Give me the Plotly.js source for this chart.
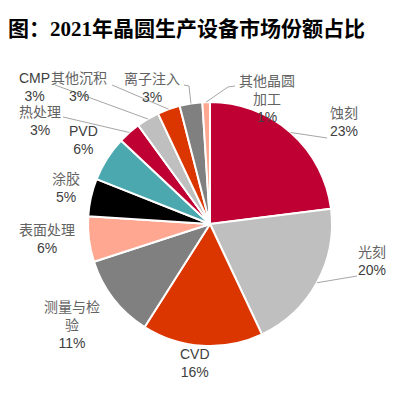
<!DOCTYPE html>
<html>
<head>
<meta charset="utf-8">
<script src="https://cdn.plot.ly/plotly-3.0.1.min.js"></script>
<style>html,body{margin:0;padding:0;background:#fff;}#chart{width:393px;height:403px;}</style>
</head>
<body>
<div id="chart"></div>
<script>
// ---- data ----
const categories = ["蚀刻", "光刻", "CVD", "测量与检验", "表面处理", "涂胶", "PVD", "热处理", "CMP", "其他沉积", "离子注入", "其他晶圆加工"];
const shares = [23, 20, 16, 11, 6, 5, 6, 3, 3, 3, 3, 1];
const displayNames = ["蚀刻", "光刻", "CVD", "测量与检<br>验", "表面处理", "涂胶", "PVD", "热处理", "CMP", "其他沉积", "离子注入", "其他晶圆<br>加工"];

// ---- style ----
const sliceColors = ["#BF0033", "#BFBFBF", "#DC3600", "#808080", "#FFA791", "#000000", "#4BA8AE",
                     "#BF0033", "#BFBFBF", "#DC3600", "#808080", "#FFA791"];
const W = 393, H = 403;
const cx = 210, cy = 224, R = 122;
// label block centres (px) and leader-line label ends (null = no line)
const labelPos = [
  [344, 122], [372, 261], [195, 363], [72, 325], [47, 239], [66, 188],
  [83, 140], [40, 121], [34, 87], [79, 87], [152, 88], [267, 99]
];
const leaderFrom = [
  [[327, 138]], [[357, 276]], null, null, null, null, null,
  [[63, 117]], [[55, 85]], [[112, 85]], [[184, 85], [189, 86]], [[235, 86], [228, 87]]
];

const px = x => x / W;
const py = y => 1 - y / H;

const total = shares.reduce((a, b) => a + b, 0);
let cum = 0;
const shapes = [];
const annotations = [];
shares.forEach((v, i) => {
  const mid = (cum + v / 2) / total * 2 * Math.PI;
  cum += v;
  const ax = cx + R * Math.sin(mid);
  const ay = cy - R * Math.cos(mid);
  if (leaderFrom[i]) {
    const pts = leaderFrom[i].concat([[ax, ay]]);
    const path = pts.map((p, k) => (k ? "L" : "M") + px(p[0]).toFixed(5) + "," + py(p[1]).toFixed(5)).join(" ");
    shapes.push({type: "path", xref: "paper", yref: "paper", path: path,
                 line: {color: "#A6A6A6", width: 1}});
  }
  const isLatin = /^[A-Za-z]+$/.test(categories[i]);
  annotations.push({
    xref: "paper", yref: "paper", x: px(labelPos[i][0]), y: py(labelPos[i][1]),
    xanchor: "center", yanchor: "middle", showarrow: false, align: "center",
    text: '<span style="color:' + (isLatin ? '#404040' : '#636363') + '">' + displayNames[i] + '</span><br>' +
          '<span style="color:#404040">' + v + '%</span>',
    font: {family: "Liberation Sans, Arial, Noto Sans CJK SC", size: 14, color: "#404040"}
  });
});

const trace = {
  type: "pie",
  labels: categories,
  values: shares,
  sort: false,
  direction: "clockwise",
  rotation: 0,
  textinfo: "none",
  hoverinfo: "skip",
  marker: {colors: sliceColors, line: {color: "#FFFFFF", width: 2}},
  domain: {x: [px(cx - R), px(cx + R)], y: [py(cy + R), py(cy - R)]}
};

const layout = {
  width: W, height: H,
  margin: {l: 0, r: 0, t: 0, b: 0},
  paper_bgcolor: "#FFFFFF",
  showlegend: false,
  title: {
    text: "图：2021年晶圆生产设备市场份额占比",
    x: px(8), xanchor: "left", xref: "paper",
    y: py(29), yanchor: "middle", yref: "paper",
    font: {family: "Liberation Serif, Noto Sans CJK SC", size: 21, color: "#000000", weight: "bold"}
  },
  shapes: shapes,
  annotations: annotations
};

Plotly.newPlot("chart", [trace], layout, {displayModeBar: false, staticPlot: true});
</script>
</body>
</html>
